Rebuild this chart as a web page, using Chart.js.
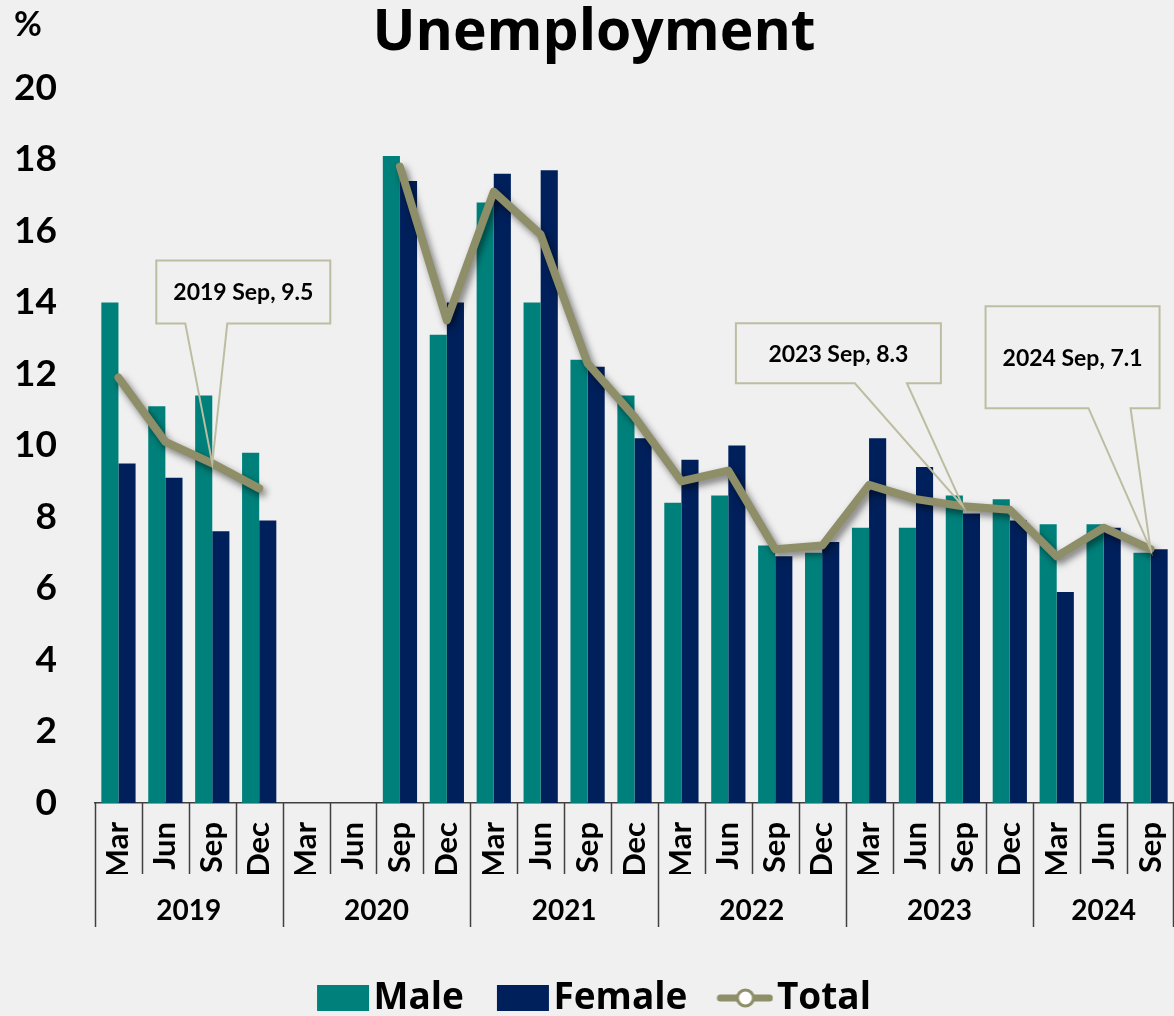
<!DOCTYPE html>
<html>
<head>
<meta charset="utf-8">
<title>Unemployment</title>
<script src="https://cdn.jsdelivr.net/npm/chart.js@4.4.0/dist/chart.umd.min.js"></script>
<style>
  html, body { margin: 0; padding: 0; background: #f0f0f0; }
</style>
</head>
<body>
<canvas id="myChart" width="1174" height="1016"></canvas>
<script>
// categories (quarters)
const months = ['Mar', 'Jun', 'Sep', 'Dec', 'Mar', 'Jun', 'Sep', 'Dec', 'Mar', 'Jun', 'Sep', 'Dec',
                'Mar', 'Jun', 'Sep', 'Dec', 'Mar', 'Jun', 'Sep', 'Dec', 'Mar', 'Jun', 'Sep'];
const quarterYears = [2019, 2019, 2019, 2019, 2020, 2020, 2020, 2020, 2021, 2021, 2021, 2021,
                      2022, 2022, 2022, 2022, 2023, 2023, 2023, 2023, 2024, 2024, 2024];

// series (%)
const male   = [14.0, 11.1, 11.4, 9.8, null, null, 18.1, 13.1, 16.8, 14.0, 12.4, 11.4,
                8.4, 8.6, 7.2, 7.0, 7.7, 7.7, 8.6, 8.5, 7.8, 7.8, 7.0];
const female = [9.5, 9.1, 7.6, 7.9, null, null, 17.4, 14.0, 17.6, 17.7, 12.2, 10.2,
                9.6, 10.0, 6.9, 7.3, 10.2, 9.4, 8.1, 7.9, 5.9, 7.7, 7.1];
const total  = [11.9, 10.1, 9.5, 8.8, null, null, 17.8, 13.5, 17.1, 15.9, 12.3, 10.8,
                9.0, 9.3, 7.1, 7.2, 8.9, 8.5, 8.3, 8.2, 6.9, 7.7, 7.1];

// y axis
const yMin = 0;
const yMax = 20;
const yStep = 2;

// points of the Total line that get a callout
const calloutIndexes = [2, 18, 22];

// colours / fonts
const FONT = 'Lato, "Open Sans", sans-serif';
const FONT_WIDE = '"Open Sans", Lato, sans-serif';
const BG = '#f0f0f0';
const MALE_COLOR = '#00807a';
const FEMALE_COLOR = '#00205b';
const TOTAL_COLOR = '#8e8e68';
const CALLOUT_COLOR = '#bdbda2';

// callout box shapes, relative to the point they describe
const calloutShapes = {
  2:  {left: -56, right: 118, top: -203, bottom: -140, base1: -27, base2: 15},
  18: {left: -227, right: -22, top: -183, bottom: -123, base1: -108, base2: -56},
  22: {left: -165, right: 9, top: -243, bottom: -141, base1: -62, base2: -20}
};

// year groups for the second axis row
const yearGroups = [];
quarterYears.forEach((yr, i) => {
  const last = yearGroups[yearGroups.length - 1];
  if (last && last.year === yr) {
    last.end = i;
  } else {
    yearGroups.push({year: yr, start: i, end: i});
  }
});
// the year row uses half-quarter slots so every group centre falls on a slot
const yearSlots = new Array(months.length * 2 + 1).fill('');
yearGroups.forEach(g => { yearSlots[g.start + g.end + 1] = String(g.year); });

// legend icons (centred on a 38px legend box, text starts 56px after item start)
function makeIcon(kind, color) {
  const c = document.createElement('canvas');
  c.width = 68;
  c.height = 30;
  const g = c.getContext('2d');
  if (kind === 'box') {
    g.fillStyle = color;
    g.fillRect(15, 2, 52, 26);
  } else {
    g.strokeStyle = color;
    g.lineWidth = 7;
    g.lineCap = 'round';
    g.beginPath();
    g.moveTo(15, 15);
    g.lineTo(64, 15);
    g.stroke();
    g.beginPath();
    g.arc(40, 15, 8, 0, Math.PI * 2);
    g.fillStyle = '#ffffff';
    g.fill();
    g.lineWidth = 3;
    g.stroke();
  }
  return c;
}
const legendIcons = [makeIcon('box', MALE_COLOR), makeIcon('box', FEMALE_COLOR), makeIcon('line', TOTAL_COLOR)];

// plugins
const background = {
  id: 'background',
  beforeDraw(chart) {
    const ctx = chart.ctx;
    ctx.save();
    ctx.fillStyle = BG;
    ctx.fillRect(0, 0, chart.width, chart.height);
    ctx.restore();
  }
};

const lineShadow = {
  id: 'lineShadow',
  beforeDatasetDraw(chart, args) {
    if (args.index !== 2) return;
    const ctx = chart.ctx;
    ctx.save();
    ctx.shadowColor = 'rgba(0,0,0,0.5)';
    ctx.shadowBlur = 7;
    ctx.shadowOffsetX = 3;
    ctx.shadowOffsetY = 4;
  },
  afterDatasetDraw(chart, args) {
    if (args.index !== 2) return;
    chart.ctx.restore();
  }
};

// separators of the two-row category axis + "%" unit
const axisGroups = {
  id: 'axisGroups',
  afterDraw(chart) {
    const {ctx} = chart;
    const x = chart.scales.x;
    const xYear = chart.scales.xYear;
    const n = months.length;
    const edge = i => {
      if (i <= 0) return x.left;
      if (i >= n) return x.right - 1;
      return (x.getPixelForValue(i - 1) + x.getPixelForValue(i)) / 2;
    };
    ctx.save();
    ctx.strokeStyle = '#404040';
    ctx.lineWidth = 1.5;
    ctx.beginPath();
    for (let i = 0; i <= n; i++) {
      const px = Math.round(edge(i)) + 0.5;
      const isYear = i === n || yearGroups.some(g => g.start === i);
      ctx.moveTo(px, x.top);
      ctx.lineTo(px, isYear ? xYear.bottom : x.bottom);
    }
    ctx.stroke();

    ctx.fillStyle = '#000';
    ctx.font = 'bold 34px ' + FONT;
    ctx.textAlign = 'left';
    ctx.textBaseline = 'middle';
    ctx.fillText('%', 14, 25);
    ctx.restore();
  }
};

const callouts = {
  id: 'callouts',
  afterDatasetsDraw(chart) {
    const {ctx} = chart;
    const x = chart.scales.x;
    const y = chart.scales.y;
    ctx.save();
    calloutIndexes.forEach(i => {
      const s = calloutShapes[i];
      const px = x.getPixelForValue(i);
      const py = y.getPixelForValue(total[i]);
      const L = px + s.left, R = px + s.right, T = py + s.top, B = py + s.bottom;
      ctx.fillStyle = BG;
      ctx.fillRect(L, T, R - L, B - T);
      ctx.strokeStyle = CALLOUT_COLOR;
      ctx.lineWidth = 2;
      ctx.lineJoin = 'miter';
      ctx.beginPath();
      ctx.moveTo(px + s.base1, B);
      ctx.lineTo(L, B);
      ctx.lineTo(L, T);
      ctx.lineTo(R, T);
      ctx.lineTo(R, B);
      ctx.lineTo(px + s.base2, B);
      ctx.lineTo(px, py);
      ctx.closePath();
      ctx.stroke();
      ctx.fillStyle = '#000';
      ctx.font = 'bold 23px ' + FONT;
      ctx.textAlign = 'center';
      ctx.textBaseline = 'middle';
      ctx.fillText(quarterYears[i] + ' ' + months[i] + ', ' + total[i].toFixed(1), (L + R) / 2, (T + B) / 2 + 1);
    });
    ctx.restore();
  }
};

const data = {
  labels: months,
  datasets: [
    {
      type: 'bar',
      label: 'Male',
      data: male,
      backgroundColor: MALE_COLOR,
      xAxisID: 'x',
      order: 1,
      categoryPercentage: 0.73,
      barPercentage: 1.0
    },
    {
      type: 'bar',
      label: 'Female',
      data: female,
      backgroundColor: FEMALE_COLOR,
      xAxisID: 'x',
      order: 1,
      categoryPercentage: 0.73,
      barPercentage: 1.0
    },
    {
      type: 'line',
      label: 'Total',
      data: total,
      borderColor: TOTAL_COLOR,
      backgroundColor: TOTAL_COLOR,
      borderWidth: 8,
      borderCapStyle: 'round',
      borderJoinStyle: 'round',
      pointRadius: 0,
      spanGaps: false,
      tension: 0,
      xAxisID: 'x',
      order: 0
    }
  ]
};

const config = {
  type: 'bar',
  data,
  options: {
    responsive: false,
    animation: false,
    devicePixelRatio: 1,
    layout: {
      padding: {left: 14, right: 0, top: 0, bottom: 0}
    },
    plugins: {
      title: {
        display: true,
        text: 'Unemployment',
        color: '#000',
        font: {family: FONT_WIDE, size: 57, weight: 'bold'},
        padding: {top: 0, bottom: 19.6}
      },
      legend: {
        position: 'bottom',
        maxHeight: 89,
        title: {display: true, text: '', font: {size: 10, lineHeight: 1}, padding: {top: 9.5, bottom: 0}},
        labels: {
          usePointStyle: true,
          pointStyleWidth: 38,
          color: '#000',
          font: {family: FONT_WIDE, size: 37, weight: 'bold'},
          padding: 33,
          generateLabels(chart) {
            const items = Chart.defaults.plugins.legend.labels.generateLabels(chart);
            items.forEach(it => { it.pointStyle = legendIcons[it.datasetIndex]; });
            return items;
          },
          sort: (a, b) => a.datasetIndex - b.datasetIndex
        }
      },
      tooltip: {enabled: false}
    },
    scales: {
      x: {
        type: 'category',
        position: 'bottom',
        offset: true,
        weight: 0,
        grid: {display: false, drawTicks: false},
        border: {display: true, color: '#404040', width: 1.5},
        ticks: {
          autoSkip: false,
          minRotation: 90,
          maxRotation: 90,
          color: '#000',
          font: {family: FONT, size: 31, weight: 'bold'},
          padding: 19
        },
        afterFit(scale) {
          scale.paddingLeft = 0;
          scale.paddingRight = 0;
          scale.height = 71;
        }
      },
      xYear: {
        type: 'category',
        position: 'bottom',
        labels: yearSlots,
        offset: false,
        weight: 1,
        grid: {display: false, drawTicks: false},
        border: {display: false},
        ticks: {
          autoSkip: false,
          minRotation: 0,
          maxRotation: 0,
          color: '#000',
          font: {family: FONT, size: 28, weight: 'bold'},
          padding: 20
        },
        afterFit(scale) {
          scale.paddingLeft = 0;
          scale.paddingRight = 0;
          scale.height = 53;
        }
      },
      y: {
        min: yMin,
        max: yMax,
        grid: {display: false, drawTicks: false},
        border: {display: false},
        ticks: {
          stepSize: yStep,
          color: '#000',
          font: {family: FONT, size: 37, weight: 'bold'},
          padding: 38
        },
        afterFit(scale) {
          scale.width = 81;
        }
      }
    }
  },
  plugins: [background, lineShadow, callouts, axisGroups]
};

const mychart = new Chart(document.getElementById('myChart'), config);
</script>
</body>
</html>
